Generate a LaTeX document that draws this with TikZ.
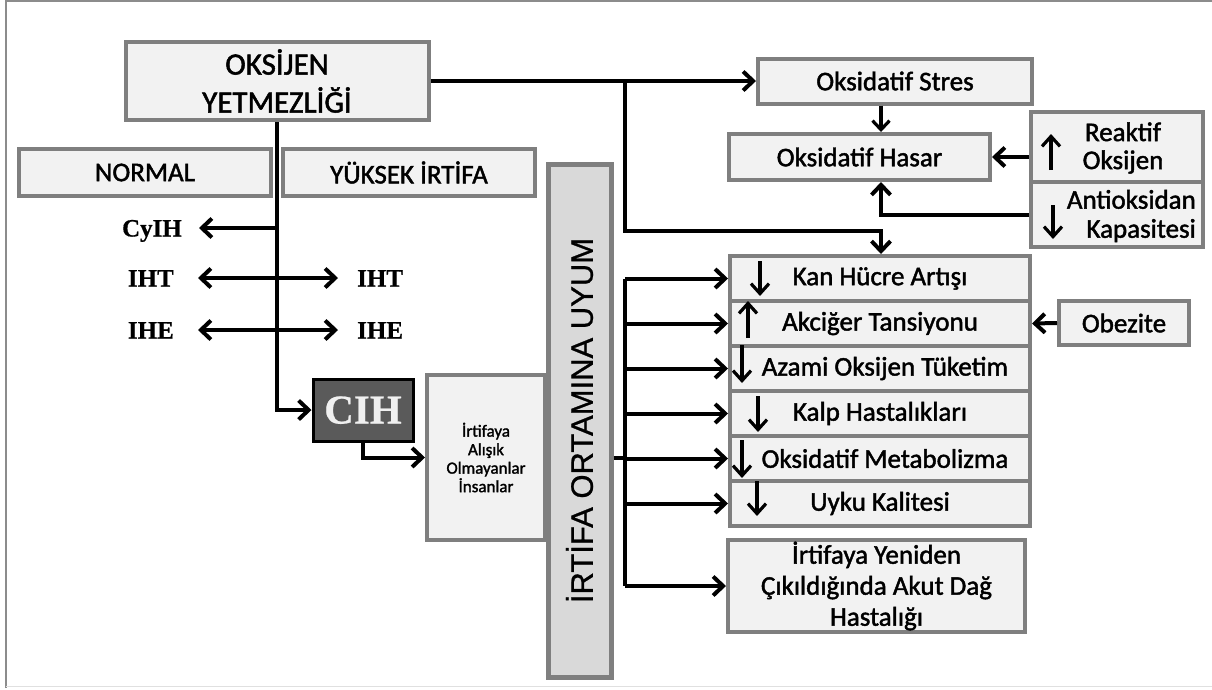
\documentclass[tikz,border=0pt]{standalone}
\usepackage{fontspec}
\usepackage{graphicx}
\setmainfont{Carlito}[FakeBold=1.6]
\newfontfamily\tnr{Liberation Serif}[FakeBold=0.6]
\newfontfamily\arialf{Liberation Sans}[FakeBold=0.8]
\usetikzlibrary{arrows.meta,calc}
\definecolor{bordergray}{HTML}{7F7F7F}
\definecolor{boxfill}{HTML}{F2F2F2}
\definecolor{barfill}{HTML}{D9D9D9}
\definecolor{cihfill}{HTML}{5A5A5A}
\definecolor{framegray}{HTML}{8C8C8C}
\begin{document}
\begin{tikzpicture}[x=1pt,y=-1pt,
  box/.style={draw=bordergray, fill=boxfill, line width=4pt, inner sep=0pt, align=center,
    font=\fontsize{27}{32}\selectfont},
  conn/.style={line width=4pt},
  arr/.style={conn, -{Straight Barb[length=10pt,width=19pt]}},
  arrtwo/.style={conn, {Straight Barb[length=10pt,width=19pt]}-{Straight Barb[length=10pt,width=19pt]}},
  thinarr/.style={line width=3.2pt, -{Straight Barb[length=9pt,width=17pt]}},
  sarr/.style={line width=3.2pt, -{Straight Barb[length=10pt,width=18pt]}},
  lbl/.style={font=\tnr\bfseries\fontsize{25}{25}\selectfont, inner sep=0pt, text height=17pt, text depth=0pt},
  txt/.style={inner sep=0pt, align=center, font=\fontsize{27}{28}\selectfont}
]
\useasboundingbox (0,0) rectangle (1212,689);
% frame
\draw[framegray, line width=2pt] (5.5,688) -- (5.5,1) -- (1212,1);
\draw[black!12, line width=1.5pt] (5.5,686.5) -- (1212,686.5);

% top-left
\node[box, minimum width=303pt, minimum height=78pt, font=\fontsize{31}{38}\selectfont] (oks) at (277,81) {OKSİJEN\\YETMEZLİĞİ};
\node[box, minimum width=252pt, minimum height=47pt] (normal) at (145,172.5) {NORMAL};
\node[box, minimum width=252pt, minimum height=47pt] (yuksek) at (409,172.5) {YÜKSEK İRTİFA};

% top-right
\node[box, minimum width=274pt, minimum height=45pt] (stres) at (895,81) {Oksidatif Stres};
\node[box, minimum width=261pt, minimum height=46pt] (hasar) at (859.5,157) {Oksidatif Hasar};
\node[box, minimum width=172pt, minimum height=70pt] (reak) at (1117,147) {};
\node[box, minimum width=172pt, minimum height=65pt] (anti) at (1117,214.5) {};
\node[txt] (reakt) at (1123,148) {Reaktif\\Oksijen};
\node[txt, anchor=east, align=right, font=\fontsize{27}{29}\selectfont] (antit) at (1196,216) {Antioksidan\\Kapasitesi};

% right column
\node[box, minimum width=300pt, minimum height=45pt] (kan) at (880,278.5) {Kan Hücre Artışı};
\node[box, minimum width=300pt, minimum height=45pt] (akc) at (880,323.5) {Akciğer Tansiyonu};
\node[box, minimum width=300pt, minimum height=45pt] (azami) at (880,368.5) {\hspace*{10pt}Azami Oksijen Tüketim};
\node[box, minimum width=300pt, minimum height=45pt] (kalp) at (880,413.5) {Kalp Hastalıkları};
\node[box, minimum width=300pt, minimum height=45pt] (oksmet) at (880,458.5) {\hspace*{10pt}Oksidatif Metabolizma};
\node[box, minimum width=300pt, minimum height=45pt] (uyku) at (880,503.5) {Uyku Kalitesi};
\node[box, minimum width=297pt, minimum height=92pt, font=\fontsize{27}{31}\selectfont] (yeni) at (876.5,586) {İrtifaya Yeniden\\Çıkıldığında Akut Dağ\\Hastalığı};
\node[box, minimum width=130pt, minimum height=44pt] (obez) at (1124,323) {Obezite};

% middle
\node[draw=black, line width=3pt, fill=cihfill, minimum width=100pt, minimum height=62pt,
  text=white!94!black, font=\tnr\bfseries\fontsize{41}{41}\selectfont, text height=27pt, text depth=0pt, inner sep=0pt] (cih) at (363,410) {CIH};
\node[box, minimum width=118pt, minimum height=165pt, font=\fontsize{17}{18.5}\selectfont] (alis) at (486,457.5) {İrtifaya\\Alışık\\Olmayanlar\\İnsanlar};
\node[draw=bordergray, fill=barfill, line width=5pt, minimum width=63pt, minimum height=513pt, inner sep=0pt,
  font=\arialf\fontsize{31}{31}\selectfont] (bar) at (579.5,420.5) {\rotatebox{90}{İRTİFA ORTAMINA UYUM}};

% left labels
\node[lbl, anchor=east] (cyih) at (182,228) {CyIH};
\node[lbl, anchor=east] (ihtl) at (174,278) {IHT};
\node[lbl, anchor=west] (ihtr) at (357,278) {IHT};
\node[lbl, anchor=east] (ihel) at (174,330) {IHE};
\node[lbl, anchor=west] (iher) at (357,330) {IHE};

% connectors top
\coordinate (j1) at (625,81);
\coordinate (j2) at (881,231);
\draw[arr] (oks.east) -- (stres.west);
\draw[arr] (j1) |- (j2) -- (kan.north -| j2);
\draw[thinarr] (stres.south -| j2) -- (hasar.north -| j2);
\draw[arr] (reak.west |- hasar.east) -- (hasar.east);
\draw[arr] (anti.west) -| (hasar.south -| j2);

% connectors left
\draw[arr] (oks.south) |- (cih.west);
\draw[arr] (oks.south |- cyih.east) -- ([xshift=17pt]cyih.east);
\draw[arrtwo] ([xshift=24pt]ihtl.east) -- ([xshift=-19pt]ihtr.west);
\draw[arrtwo] ([xshift=24pt]ihel.east) -- ([xshift=-19pt]iher.west);
\draw[arr] (cih.south) |- (alis.west);

% connectors right
\coordinate (bj) at (625,458);
\draw[conn] (bar.east |- bj) -- (bj);
\draw[conn] (kan.west -| bj) -- (yeni.west -| bj);
\foreach \n in {kan,akc,azami,kalp,oksmet,uyku,yeni} \draw[arr] (\n.west -| bj) -- (\n.west);
\draw[arr] (obez.west) -- (akc.east);

% small trend arrows
\draw[sarr] ($(kan.north west)+(32,7)$) -- ++(0,35);
\draw[sarr] ($(akc.north west)+(20,39)$) -- ++(0,-37);
\draw[sarr] ($(azami.north west)+(14,1)$) -- ++(0,38);
\draw[sarr] ($(kalp.north west)+(30,7)$) -- ++(0,36);
\draw[sarr] ($(oksmet.north west)+(14,6)$) -- ++(0,38);
\draw[sarr] ($(uyku.north west)+(29,2)$) -- ++(0,35);
\draw[sarr] ($(reak.north west)+(22,60)$) -- ++(0,-36);
\draw[sarr] ($(anti.north west)+(24,25)$) -- ++(0,34);
\end{tikzpicture}
\end{document}
